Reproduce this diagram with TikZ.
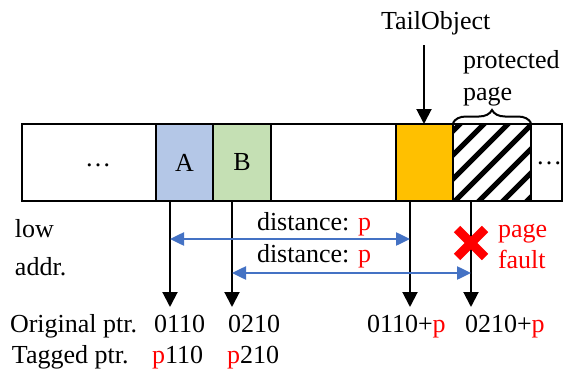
\documentclass[tikz,border=0pt]{standalone}
\usepackage{fontspec}
\setmainfont{Liberation Serif}
\usetikzlibrary{arrows.meta,decorations.pathreplacing}
\definecolor{cellA}{RGB}{180,199,231}
\definecolor{cellB}{RGB}{197,224,180}
\definecolor{tailorange}{RGB}{255,192,0}
\definecolor{distblue}{RGB}{68,114,196}
\definecolor{faultred}{RGB}{255,0,0}
\begin{document}
\begin{tikzpicture}[x=1pt,y=-1pt,
  txt/.style={font=\fontsize{26}{30}\selectfont, inner sep=0pt, outer sep=0pt, anchor=base west},
  cell/.style={draw=black, line width=2.5pt, rectangle, inner sep=0pt, outer sep=0pt,
               minimum height=77pt, anchor=west, font=\fontsize{26}{30}\selectfont},
  ptrarrow/.style={draw=black, line width=2pt, -{Triangle[length=15pt,width=15pt]}},
  distarrow/.style={draw=distblue, line width=2.5pt,
               {Triangle[length=14pt,width=13pt]}-{Triangle[length=14pt,width=13pt]}},
  hl/.style={text=faultred}
]
\useasboundingbox (0,0) rectangle (566,372);

% memory cells of the bar
\node[cell, minimum width=134pt] (c0) at (22,162.5) {};
\node[font=\fontsize{26}{30}\selectfont] at (98,165) {\dots};
\node[cell, minimum width=57pt, fill=cellA] (A) at (156,162.5) {A};
\node[cell, minimum width=58pt, fill=cellB] (B) at (213,162.5) {B};
\node[cell, minimum width=125pt] (c3) at (271,162.5) {};
\node[cell, minimum width=57pt, fill=tailorange] (T) at (396,162.5) {};
\node[cell, minimum width=78pt] (P) at (453,162.5) {};
\node[cell, minimum width=31pt] (c6) at (531,162.5) {};
\node[font=\fontsize{26}{30}\selectfont] at (549,163) {\dots};

% hatching of the protected page
\begin{scope}
  \clip (P.north west) rectangle (P.south east);
  \foreach \k in {-96,-72,...,110}
    \draw[line width=5pt] (453+\k,203) -- (453+\k+80,123);
\end{scope}
\node[cell, minimum width=78pt] at (453,162.5) {};

% TailObject label
\node[txt] (tail) at (381,29) {TailObject};
\coordinate (tailtop) at (424,45);
\coordinate (tailtip) at (424,124);
\draw[ptrarrow] (tailtop) -- (tailtip);

% protected page brace
\coordinate (brl) at (453,123);
\coordinate (brr) at (531,123);
\draw[line width=2pt, decorate, decoration={brace, amplitude=13pt}] (brl) -- (brr);
\node[txt] (prot1) at (463,68) {protected};
\node[txt] (prot2) at (463,100) {page};

% pointers leaving the bar
\coordinate (sA) at (170,201);
\coordinate (sB) at (232,201);
\coordinate (sC) at (410,201);
\coordinate (sD) at (471,201);
\coordinate (eA) at (170,307);
\coordinate (eB) at (232,307);
\coordinate (eC) at (410,307);
\coordinate (eD) at (471,307);
\draw[ptrarrow] (sA) -- (eA);
\draw[ptrarrow] (sB) -- (eB);
\draw[ptrarrow] (sC) -- (eC);
\draw[ptrarrow] (sD) -- (eD);

% distances
\coordinate (d1l) at (170,239);
\coordinate (d1r) at (410,239);
\coordinate (d2l) at (232,273);
\coordinate (d2r) at (471,273);
\draw[distarrow] (d1l) -- (d1r);
\draw[distarrow] (d2l) -- (d2r);
\node[txt] (dist1) at (257,230) {distance: \textcolor{faultred}{p}};
\node[txt] (dist2) at (257,262) {distance: \textcolor{faultred}{p}};

% low address label
\node[txt] (low1) at (15,237) {low};
\node[txt] (low2) at (15,275) {addr.};

% page fault mark
\draw[faultred, line width=9pt] (457,229) -- (485,257) (485,229) -- (457,257);
\node[txt, hl] (pf1) at (498,237) {page};
\node[txt, hl] (pf2) at (498,268) {fault};

% pointer values
\node[txt] (orig) at (10,332) {Original ptr.};
\node[txt] (tag) at (12,363) {Tagged ptr.};
\node[txt] (o1) at (154,332) {0110};
\node[txt] (o2) at (228,332) {0210};
\node[txt] (o3) at (367,332) {0110+\textcolor{faultred}{p}};
\node[txt] (o4) at (465,332) {0210+\textcolor{faultred}{p}};
\node[txt] (t1) at (152,363) {\textcolor{faultred}{p}110};
\node[txt] (t2) at (227,363) {\textcolor{faultred}{p}210};
\end{tikzpicture}
\end{document}
